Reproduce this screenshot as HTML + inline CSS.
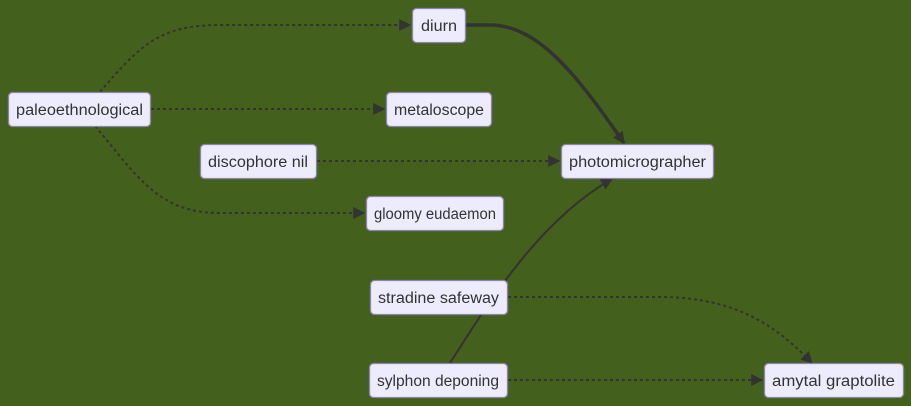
<!DOCTYPE html>
<html><head><meta charset="utf-8"><style>
html,body{margin:0;padding:0;background:#43611c;}
svg{display:block;}
text{font-family:"Liberation Sans","DejaVu Sans",sans-serif;font-size:15.5px;fill:#333;}
</style></head><body>
<svg width="911" height="406" viewBox="0 0 911 406" xmlns="http://www.w3.org/2000/svg">
<defs>
<marker id="b" viewBox="0 0 10 10" refX="9" refY="5" markerWidth="12" markerHeight="12" orient="auto" markerUnits="userSpaceOnUse"><path d="M0,0L10,5L0,10z" fill="#333"/></marker>
</defs>
<g fill="none" stroke="#333" stroke-width="2" stroke-dasharray="3,3">
<path d="M100,92 C140,45 160,25 220,25 L410,25" marker-end="url(#b)"/>
<path d="M151,109 L384,109" marker-end="url(#b)"/>
<path d="M95,126 C140,180 160,213 220,213 L364,213" marker-end="url(#b)"/>
<path d="M317,161 L559,161" marker-end="url(#b)"/>
<path d="M508,297 L660,297 C740,297 780,330 812,363" marker-end="url(#b)"/>
<path d="M508,380 L762,380" marker-end="url(#b)"/>
</g>
<g fill="none" stroke="#333">
<path d="M466,25 L490,25 C540,25 580,80 624,143" stroke-width="3.5" marker-end="url(#b)"/>
<path d="M450,363 C490,300 540,220 612,179" stroke-width="2" marker-end="url(#b)"/>
</g>
<g fill="#ececfe" stroke="#8d82b0" stroke-width="1.3">
<rect x="412.5" y="8.5" width="53" height="34" rx="4"/>
<rect x="8.5" y="92.5" width="142" height="34" rx="4"/>
<rect x="386.5" y="92.5" width="105" height="34" rx="4"/>
<rect x="200.5" y="144.5" width="116" height="34" rx="4"/>
<rect x="561.5" y="144.5" width="152" height="34" rx="4"/>
<rect x="366.5" y="196.5" width="137" height="34" rx="4"/>
<rect x="370.5" y="280.5" width="137" height="34" rx="4"/>
<rect x="369.5" y="363.5" width="138" height="34" rx="4"/>
<rect x="764.5" y="363.5" width="139" height="34" rx="4"/>
</g>
<g text-anchor="start">
<text x="421" y="31" textLength="36" lengthAdjust="spacingAndGlyphs">diurn</text>
<text x="16" y="115" textLength="127" lengthAdjust="spacingAndGlyphs">paleoethnological</text>
<text x="394" y="115" textLength="90" lengthAdjust="spacingAndGlyphs">metaloscope</text>
<text x="208" y="167" textLength="100" lengthAdjust="spacingAndGlyphs">discophore nil</text>
<text x="569" y="167" textLength="137" lengthAdjust="spacingAndGlyphs">photomicrographer</text>
<text x="374" y="219" textLength="122" lengthAdjust="spacingAndGlyphs">gloomy eudaemon</text>
<text x="378" y="303" textLength="121" lengthAdjust="spacingAndGlyphs">stradine safeway</text>
<text x="377" y="386" textLength="122" lengthAdjust="spacingAndGlyphs">sylphon deponing</text>
<text x="772" y="386" textLength="123" lengthAdjust="spacingAndGlyphs">amytal graptolite</text>
</g>
</svg>
</body></html>
